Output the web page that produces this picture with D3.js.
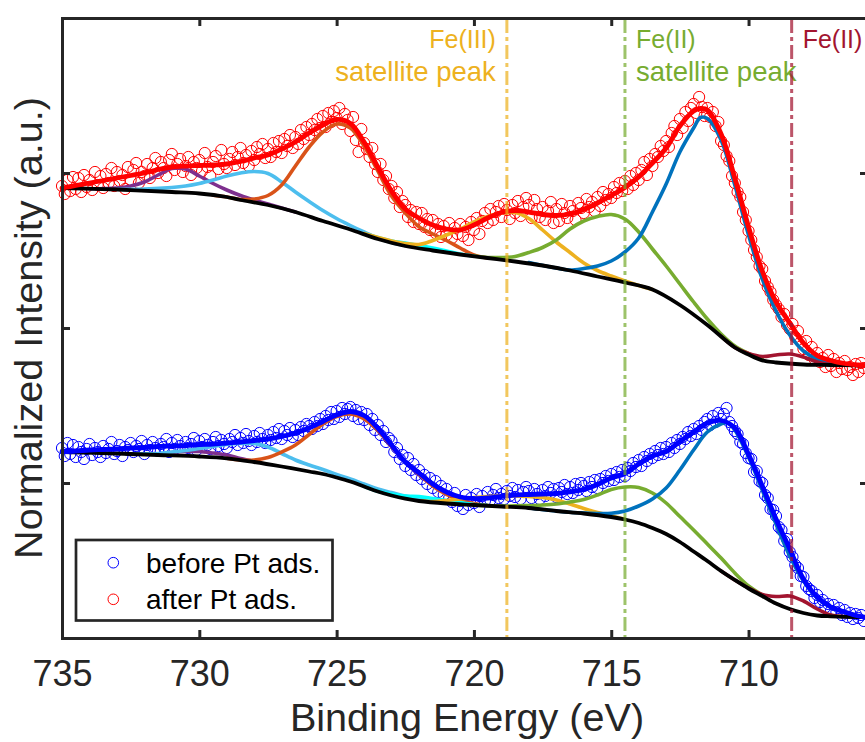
<!DOCTYPE html>
<html><head><meta charset="utf-8">
<script src="https://cdn.jsdelivr.net/npm/d3@7"></script>
<style>
body{margin:0;background:#fff}
svg{display:block}
text{font-family:"Liberation Sans", Arial, Helvetica, sans-serif}
</style>
</head><body>
<svg id="chart" width="865" height="742"></svg>
<script>
// ---------------- DATA ----------------
// binding energy grid of the measurement (eV), first point and step
const energyStart = 735.0;
const energyStep = 0.1;

// measured points, normalized intensity (a.u.), one per grid energy
const beforeData = [
190,182,195,184,193, 181,191,186,179,189, 194,183,190,186,181, 192,185,189,196,184,
187,193,182,191,188, 195,186,192,189,197, 184,193,188,196,190, 187,194,191,199,186,
195,189,198,192,187, 196,190,194,200,188, 197,191,199,193,189, 196,201,192,198,194,
190,199,196,203,193, 200,195,204,197,193, 202,196,205,199,195, 203,198,206,200,209,
199,207,203,210,201, 208,203,211,207,214, 212,209,216,212,219, 214,222,218,226,219,
227,221,230,224,229, 231,222,228,219,226, 218,224,213,219,208, 213,203,207,196,200,
197,186,190,179,183, 172,180,168,174,163, 168,159,163,154,160, 150,157,146,152,143,
149,140,136,145,132, 137,129,143,133,140, 135,144,131,142,137, 146,138,143,149,140,
144,139,147,142,150, 141,148,139,146,151, 147,140,149,144,139, 148,142,151,145,149,
141,150,146,153,144, 151,145,154,148,155, 152,147,156,151,158, 150,159,155,162,157,
164,158,166,161,168, 162,170,167,175,171, 178,172,181,177,184, 180,187,183,190,184,
191,186,195,190,198, 194,201,199,206,202, 209,204,212,208,216, 219,213,222,216,225,
219,224,230,216,212, 207,204,196,194,185, 180,179,166,167,157, 155,143,140,129,128,
122,111,108,97,99, 86,81,73,70,62, 61,52,49,47,40, 43,36,38,31,34,
27,33,26,30,23, 28,21,25,19,24, 20,23,17
];
const afterData = [
452,444,458,447,461, 449,460,446,463,451, 458,448,466,453,462, 450,464,455,470,452,
466,457,463,449,471, 458,468,475,455,466, 462,474,460,470,480, 465,476,470,462,478,
484,468,474,479,466, 472,481,463,476,470, 478,467,485,471,462, 476,482,469,488,474,
470,479,486,473,481, 490,475,483,472,487, 478,491,484,494,480, 489,481,495,486,497,
485,499,492,503,490, 501,494,508,499,511, 503,514,508,519,510, 522,511,525,516,527,
520,530,514,524,518, 507,521,498,486,509, 495,489,481,490,474, 466,474,458,462,449,
452,440,446,431,437, 433,421,428,416,426, 414,425,411,419,408, 418,405,414,401,412,
403,415,400,410,404, 414,402,411,398,416, 408,420,404,417,425, 415,429,418,426,432,
421,434,428,419,433, 425,437,422,431,440, 433,420,438,429,421, 431,418,427,436,415,
429,417,434,425,420, 432,427,418,435,430, 425,439,431,436,427, 441,432,446,438,444,
440,451,445,455,447, 457,449,462,453,465, 458,468,476,463,479, 472,484,481,492,487,
497,491,505,512,503, 519,510,526,517,530, 534,525,541,531,522, 530,521,526,512,516,
497,493,482,477,462, 455,446,441,426,418, 407,398,388,381,372, 369,357,351,346,338,
333,329,321,324,313, 309,314,301,307,296, 289,297,283,291,279, 285,276,280,271,283,
272,279,266,275,269, 277,268,271,263,274, 266,275,270
];

// fitted envelopes [energy, intensity]
const afterFit = [[735,450],[734.5,452.5],[734,455],[733.5,457.5],[733,460],[732.5,462.5],[732,465],[731.5,468.5],[731,471],[730.5,472],[730,472.5],[729.5,473],[729,474],[728.5,476.5],[728,480],[727.5,483],[727,489],[726.5,496],[726,505],[725.5,513],[725,518.5],[724.5,514.5],[724,496],[723.5,471],[723,447],[722.5,429],[722,420],[721.5,413],[721,409],[720.5,408],[720,413],[719.5,420],[719,425.5],[718.5,427.5],[718,426],[717.5,423.5],[717,422.5],[716.5,424],[716,428.5],[715.5,435],[715,442.5],[714.5,450.5],[714,461],[713.5,475],[713,490],[712.5,512],[712,527],[711.75,529.5],[711.5,528],[711,504],[710.5,460],[710,411],[709.5,367],[709,336],[708.5,315],[708,295],[707.5,282.5],[707,277.5],[706.5,274.5],[706,273],[705.8,272.5]];
const beforeFit = [[735,186.5],[734.5,187],[734,188],[733.5,188.5],[733,189],[732.5,190],[732,190.5],[731.5,191.5],[731,192],[730.5,192.5],[730,193.5],[729.5,194],[729,195],[728.5,196],[728,197.5],[727.5,199],[727,201.5],[726.5,205],[726,210],[725.5,216.5],[725,223],[724.5,226.5],[724,222.5],[723.5,210],[723,193],[722.5,176],[722,165],[721.5,154],[721,146],[720.5,141],[720,139.5],[719.5,140],[719,141.5],[718.5,143],[718,143.5],[717.5,144],[717,144.5],[716.5,146.2],[716,148.5],[715.5,153.5],[715,160],[714.5,164.5],[714,174],[713.5,182],[713,186.5],[712.5,196.5],[712,206],[711.5,215],[711,217.5],[710.5,210],[710,183.5],[709.5,152],[709,119],[708.5,89],[708,59],[707.5,41],[707,31],[706.5,26],[706,22],[705.8,21]];

// Shirley backgrounds
const afterBg = [[735,450],[733,448.5],[731,446],[730,444.5],[729,441],[728.5,438],[727.5,433],[726.5,426],[725.5,417],[724.5,408.5],[723.5,399],[722.5,392],[721.5,387.5],[720.5,383.5],[719.5,380],[718.5,376.5],[717.5,372.5],[716.5,367.5],[715.5,361.5],[714.5,355.5],[713.5,348.5],[712.5,333],[711.5,313],[710.5,290.5],[710,283.5],[709.5,277.7],[709,275.5],[708,273.5],[707,273],[705.8,272.5]];
const beforeBg = [[735,186],[733,184.5],[731.5,183],[730,181.5],[729,179.7],[728,176],[727,171.5],[726,166.5],[725.5,164],[725,160.5],[724.5,156.5],[724,151.5],[723.5,146.5],[723,142.5],[722.5,139.3],[722,137],[721,134.5],[720,133],[719,131.5],[718,130],[717,127],[716,124.5],[715,121],[714.5,118.5],[714,115],[713.5,110],[713,104],[712.5,96],[712,86.5],[711.5,77],[711,67],[710.5,58],[710,49.5],[709.5,42],[709,34.5],[708.5,29],[708,25],[707.5,22.5],[707,21.7],[706,21],[705.8,21]];

// fit components (after Pt ads.)
const afterPurple = [[734,449.2],[733,450],[732.5,452],[732,456],[731.5,463],[731,469.5],[730.5,469],[730,462],[729.5,454.5],[729,448],[728.5,442.5],[728,438],[727.5,434],[727,430],[726.5,426]];
const afterLightBlue = [[733,448.7],[732,449],[731,450.5],[730.5,452],[730,454.5],[729.5,458],[729,462],[728.5,465],[728,466.5],[727.5,464.5],[727,456],[726.5,446],[726,436.5],[725.5,427.5],[725,419.5],[724.5,412.5],[724,406],[723.5,400],[723,395.5],[722.5,392.5]];
const afterOrange = [[729.5,442.7],[729,441],[728.5,438.5],[728,439],[727.5,442.5],[727,453],[726.5,472],[726,491],[725.5,506],[725,514],[724.5,510],[724,492],[723.5,467],[723,442],[722.5,425],[722,411.3],[721.5,404],[721,397.5],[720.5,390],[720,383],[719.5,380]];
const afterCyan = [[724,404.2],[723,397],[722.5,395],[722,392.5],[721.5,390],[721,387],[720.5,384],[720,382]];
const afterYellow = [[724,404.5],[723,397],[722.5,394.5],[722,393.5],[721.5,397.5],[721,403],[720.5,409],[720,416],[719.5,421.5],[719,425],[718.5,425.5],[718,419.5],[717.5,408],[717,396],[716.5,385.5],[716,375],[715.5,367.5],[715,362],[714.5,357],[714,352.5],[713.5,348.5]];
const afterGreen = [[720,382],[719.5,380.5],[719,380.5],[718.5,381.5],[718,385.5],[717.5,390.5],[717,398],[716.5,409],[716,417],[715.5,421.5],[715,423.5],[714.5,419],[714,406],[713.5,389],[713,372],[712.5,354],[712,336],[711.5,319],[711,304],[710.5,292],[710,284.5],[709.5,278.5]];
const afterBlue = [[718,375.5],[717,370],[716.5,368],[716,369.5],[715.5,372],[715,377],[714.5,386],[714,400],[713.5,426],[713,454],[712.5,486],[712,510],[711.75,520.5],[711.5,519.5],[711,498],[710.5,453],[710,403],[709.5,359],[709,327],[708.5,303],[708,287],[707.5,279],[707,275.5],[706.5,273.5],[706,273],[705.8,272.5]];
const afterDarkRed = [[711,301.7],[710.5,290.5],[710,284.5],[709.5,281.5],[709,283],[708.5,284],[708,281],[707.5,276],[707,273.2],[706.5,273]];

// fit components (before Pt ads.)
const beforePurple = [[731.5,183.5],[731,185.5],[730.5,186.5],[730,186.5],[729.5,185],[729,183],[728.5,179.5],[728,176.5]];
const beforeLightBlue = [[732.5,184.2],[731.5,184.5],[731,186],[730.5,187.5],[730,189.5],[729.5,191.5],[729,193.5],[728.5,194.5],[728,194.5],[727.5,191],[727,184.5],[726.5,178],[726,173],[725.5,168.5],[725,163.5],[724.5,159],[724,154],[723.5,149],[723,145.5],[722.5,142],[722,139.5],[721.5,136.5],[721,134.7]];
const beforeOrange = [[729,179.7],[728.5,178],[728,178],[727.5,180.5],[727,186],[726.5,193],[726,203.5],[725.5,214],[725,221.5],[724.5,224],[724,219],[723.5,207.5],[723,191.5],[722.5,176],[722,163.5],[721.5,152],[721,143.5],[720.5,138],[720,134.5],[719.5,132.5]];
const beforeCyan = [[724,151.7],[723.5,146.8],[723,144],[722.5,142],[722,141.5],[721.5,139.5],[721,137.5],[720.5,135.5],[720,133.5],[719.5,132.5]];
const beforeYellow = [[722,137.2],[721.5,136.5],[721,137.5],[720.5,139],[720,140.5],[719.5,141.5],[719,142],[718.5,142],[718,141.5],[717.5,140.5],[717,138],[716.5,134],[716,129.5],[715.5,125.5],[715,122],[714.5,118.7]];
const beforeGreen = [[720,133],[719,132],[718,132.5],[717.5,133],[717,134],[716.5,136],[716,138.5],[715.5,143],[715,148.5],[714.5,151],[714,150.5],[713.5,145],[713,135],[712.5,121.5],[712,108],[711.5,94],[711,80],[710.5,65],[710,52],[709.5,43]];
const beforeBlue = [[718,130],[717,127],[716.5,125.7],[716,125],[715.5,124.5],[715,124.7],[714.5,127],[714,132],[713.5,139],[713,150],[712.5,168],[712,188],[711.5,206],[711,214],[710.75,215],[710.5,208],[710,181],[709.5,148],[709,114],[708.5,82],[708,57],[707.5,40],[707,30.5],[706.5,25.5],[706,22],[705.8,21]];
const beforeDarkRed = [[711,67],[710.5,58],[710,50],[709.5,43.5],[709,41.5],[708.5,42],[708,37],[707.5,29],[707,23],[706.5,21.5]];

// reference energies (eV)
const markerEnergies = [718.8, 714.5, 708.43];
const markerLabels = [["Fe(III)", "satellite peak"], ["Fe(II)", "satellite peak"], ["Fe(II)"]];

// axes
const xTicks = [735, 730, 725, 720, 715, 710];
const yTicks = [155, 310, 465];
const xDomain = [735, 705.65];
const yDomain = [0, 620];
const legendLabels = ["before Pt ads.", "after Pt ads."];

// ---------------- DRAWING ----------------
const C = {
  main: "#0072BD", orange: "#D95319", yellow: "#EDB120", purple: "#7E2F8E",
  green: "#77AC30", lightblue: "#4DBEEE", darkred: "#A2142F", cyan: "#00FFFF",
  axis: "#262626"
};
const L = 62, R = 868, T = 18, B = 638;
const svg = d3.select("#chart");
const x = d3.scaleLinear().domain(xDomain).range([L, R]);
const y = d3.scaleLinear().domain(yDomain).range([B, T]);

const line = d3.line().x(d => x(d[0])).y(d => y(d[1])).curve(d3.curveCatmullRom.alpha(0.5));

// data points
function drawPoints(vals, color) {
  const pts = vals.map((v, i) => [energyStart - i * energyStep, v]);
  svg.append("g").selectAll("circle").data(pts).join("circle")
    .attr("cx", d => x(d[0])).attr("cy", d => y(d[1])).attr("r", 5.6)
    .attr("fill", "none").attr("stroke", color).attr("stroke-width", 1);
}
drawPoints(beforeData, "#0000FF");
drawPoints(afterData, "#FF0000");

function drawCurve(data, color, w) {
  svg.append("path").datum(data).attr("d", line)
    .attr("fill", "none").attr("stroke", color).attr("stroke-width", w)
    .attr("stroke-linejoin", "round").attr("stroke-linecap", "round");
}
const compW = 3.6;
[[afterPurple, C.purple], [afterLightBlue, C.lightblue], [afterOrange, C.orange], [afterCyan, C.cyan],
 [afterYellow, C.yellow], [afterGreen, C.green], [afterBlue, C.main], [afterDarkRed, C.darkred],
 [beforePurple, C.purple], [beforeLightBlue, C.lightblue], [beforeOrange, C.orange], [beforeCyan, C.cyan],
 [beforeYellow, C.yellow], [beforeGreen, C.green], [beforeBlue, C.main], [beforeDarkRed, C.darkred]]
 .forEach(([d, c]) => drawCurve(d, c, compW));
drawCurve(afterBg, "#000", 3.8);
drawCurve(beforeBg, "#000", 3.8);
drawCurve(afterFit, "#FF0000", 4.8);
drawCurve(beforeFit, "#0000FF", 4.8);

// reference lines and annotations
const markerColors = [C.yellow, C.green, C.darkred];
markerEnergies.forEach((e, i) => {
  svg.append("line").attr("x1", x(e)).attr("x2", x(e)).attr("y1", T + 1).attr("y2", B - 1)
    .attr("stroke", markerColors[i]).attr("stroke-opacity", 0.72).attr("stroke-width", 3)
    .attr("stroke-dasharray", "14,4,4,4");
  const anchorEnd = i === 0;
  const t = svg.append("text").attr("fill", markerColors[i])
    .attr("text-anchor", anchorEnd ? "end" : "start");
  markerLabels[i].forEach((s, k) => {
    t.append("tspan").attr("x", x(e) + (anchorEnd ? -11 : 11)).attr("y", 48 + k * 33)
      .attr("font-size", k === 0 ? 25 : 27.5).text(s);
  });
});

// axes
const axG = svg.append("g");
const xb = axG.append("g").attr("transform", `translate(0,${B})`)
  .call(d3.axisBottom(x).tickValues(xTicks).tickSizeInner(-8).tickSizeOuter(0).tickPadding(22).tickFormat(d3.format("d")));
const xt = axG.append("g").attr("transform", `translate(0,${T})`)
  .call(d3.axisTop(x).tickValues(xTicks).tickSizeInner(-8).tickSizeOuter(0).tickFormat(""));
const yl = axG.append("g").attr("transform", `translate(${L},0)`)
  .call(d3.axisLeft(y).tickValues(yTicks).tickSizeInner(-8).tickSizeOuter(0).tickFormat(""));
const yr = axG.append("g").attr("transform", `translate(${R},0)`)
  .call(d3.axisRight(y).tickValues(yTicks).tickSizeInner(-8).tickSizeOuter(0).tickFormat(""));
axG.selectAll(".domain").attr("stroke", C.axis).attr("stroke-width", 3).attr("stroke-linecap", "square");
axG.selectAll(".tick line").attr("stroke", C.axis).attr("stroke-width", 3);
xb.selectAll(".tick text").attr("font-size", 36).attr("fill", C.axis)
  .attr("font-family", '"Liberation Sans", Arial, sans-serif');

svg.append("text").attr("x", (L + R) / 2 + 2).attr("y", 731).attr("text-anchor", "middle")
  .attr("font-size", 39.6).attr("fill", C.axis).text("Binding Energy (eV)");
svg.append("text").attr("transform", `translate(42,${(T + B) / 2}) rotate(-90)`).attr("text-anchor", "middle")
  .attr("font-size", 39.6).attr("fill", C.axis).text("Normalized Intensity (a.u.)");

// legend
const lg = svg.append("g");
lg.append("rect").attr("x", 76).attr("y", 540).attr("width", 256.5).attr("height", 80.5)
  .attr("fill", "#fff").attr("stroke", C.axis).attr("stroke-width", 2.7);
const legendColors = ["#0000FF", "#FF0000"];
legendLabels.forEach((s, i) => {
  lg.append("circle").attr("cx", 113.3).attr("cy", 562.7 + i * 36.6).attr("r", 5.3)
    .attr("fill", "none").attr("stroke", legendColors[i]).attr("stroke-width", 1);
  lg.append("text").attr("x", 146).attr("y", 572.7 + i * 36.6).attr("font-size", 28)
    .attr("fill", "#000").text(s);
});
</script>
</body></html>
